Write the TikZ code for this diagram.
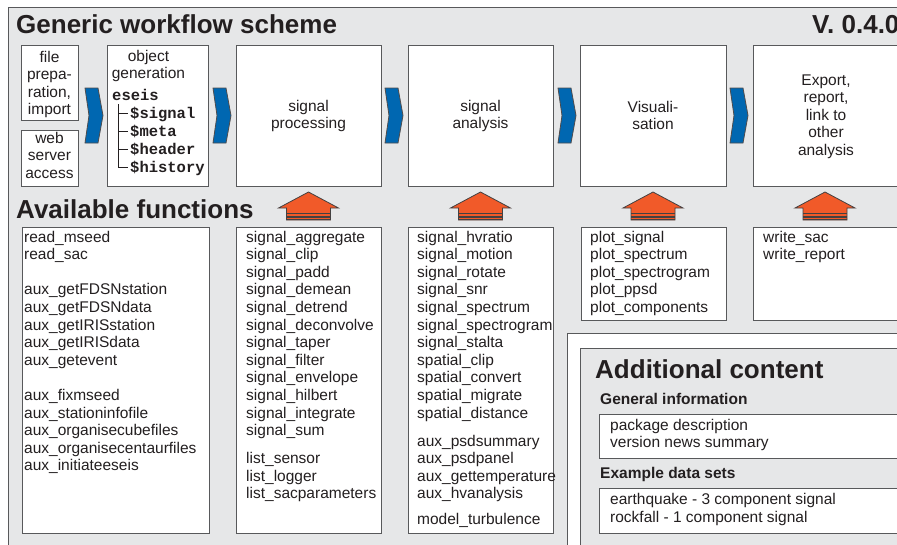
\documentclass[tikz,border=0pt]{standalone}
\usepackage{fontspec}
\setmainfont{Liberation Sans}
\setmonofont{Liberation Mono}
\definecolor{bg}{HTML}{E6E7E8}
\definecolor{ln}{HTML}{58595B}
\definecolor{txt}{HTML}{231F20}
\definecolor{chevc}{HTML}{0067B1}
\definecolor{orng}{HTML}{F15A29}
\newcommand\fs{\fontsize{15.5}{17.6}\selectfont}
\newcommand\bigfs{\fontsize{26}{30}\selectfont\bfseries}
\newcommand\midfs{\fontsize{15.5}{17.6}\selectfont\bfseries}
\newcommand\boxnode[6][box]{\node[#1, minimum width={(#5-#3)*1pt}, minimum height={(#6-#4)*1pt}] (#2) at (#3,#4) {};}
\newcommand\chevron[1]{\draw[chevst] (#1,88) -- ++(13,0) -- ++(5,27.5) -- ++(-5,27.5) -- ++(-13,0) -- ++(4,-27.5) -- cycle;}
\newcommand\uparr[1]{%
  \draw[arrst] (#1-22,220) -- (#1-22,208) -- (#1-30,208) -- (#1,192) -- (#1+30,208) -- (#1+22,208) -- (#1+22,220) -- cycle;
  \draw[stripe] (#1-22,213.5) -- (#1+22,213.5);
  \draw[stripe] (#1-22,217) -- (#1+22,217);
  \draw[stripe] (#1-22,219.8) -- (#1+22,219.8);}
\begin{document}
\begin{tikzpicture}[x=1pt,y=-1pt,
  box/.style={draw=ln, line width=1pt, fill=white, anchor=north west, inner sep=0pt, outer sep=0pt},
  graybox/.style={box, fill=bg},
  lbl/.style={inner sep=0pt, anchor=base west, align=left, font=\fs, text=txt},
  ctr/.style={inner sep=0pt, anchor=base, align=center, font=\fs, text=txt},
  ttl/.style={inner sep=0pt, anchor=base west, font=\bigfs, text=txt},
  sub/.style={inner sep=0pt, anchor=base west, font=\midfs, text=txt},
  mono/.style={inner sep=0pt, anchor=base west, font=\fontsize{15.5}{18}\selectfont\ttfamily\bfseries, text=txt},
  chevst/.style={fill=chevc, draw=txt!80, line width=0.8pt, line join=miter},
  arrst/.style={fill=orng, draw=txt!85, line width=0.8pt, line join=miter},
  stripe/.style={draw=txt!85, line width=1.1pt},
  tree/.style={draw=txt, line width=1pt}]
\useasboundingbox (0,0) rectangle (897,544);
\clip (0,0) rectangle (897,544);
% outer frame
\boxnode[graybox]{frame}{8}{7}{920}{570}
\node[ttl] (title) at (16,33) {Generic workflow scheme};
\node[ttl] (version) at (812,33) {V. 0.4.0};
% top row boxes
\boxnode{file}{21}{45}{78}{120}
\boxnode{web}{21}{130}{78}{186}
\boxnode{obj}{107}{45}{208}{186}
\boxnode{proc}{236}{45}{381}{186}
\boxnode{ana}{408}{45}{553}{186}
\boxnode{vis}{580}{45}{726}{186}
\boxnode{exp}{753}{45}{900}{186}
% (multi-line nodes: base anchor = baseline of the last line)
\node[ctr] (tfile) at (49.5,114.8) {file\\prepa-\\ration,\\import};
\node[ctr] (tweb) at (49.5,178.2) {web\\server\\access};
\node[ctr] (tobj) at (148.5,78.6) {object\\generation};
\node[mono] (eseis) at (112,100.5) {eseis};
\node[mono] (msig) at (130,118) {\$signal};
\node[mono] (mmeta) at (130,136) {\$meta};
\node[mono] (mhead) at (130,154) {\$header};
\node[mono] (mhist) at (130,172) {\$history};
\draw[tree] (118,104) -- (118,167.5) -- (128,167.5);
\draw[tree] (118,113.5) -- (128,113.5);
\draw[tree] (118,131.5) -- (128,131.5);
\draw[tree] (118,149.5) -- (128,149.5);
\node[ctr] (tproc) at (308.5,128.6) {signal\\processing};
\node[ctr] (tana) at (480.5,128.6) {signal\\analysis};
\node[ctr] (tvis) at (653,129.6) {Visuali-\\sation};
\node[ctr] (texp) at (826,155.4) {Export,\\report,\\link to\\other\\analysis};
% chevrons
\chevron{85}
\chevron{213}
\chevron{385}
\chevron{558}
\chevron{730}
% available functions
\node[ttl] (avail) at (16,218) {Available functions};
\uparr{308.5}
\uparr{480.5}
\uparr{653}
\uparr{825}
\boxnode{f1}{22}{227}{209}{533}
\boxnode{f2}{236}{227}{381}{533}
\boxnode{f3}{408}{227}{553}{533}
\boxnode{f4}{581}{227}{726}{320}
\boxnode{f5}{753}{227}{900}{320}
\node[lbl] (l1) at (24,470.8) {read\_mseed\\read\_sac\\[17.6pt]aux\_getFDSNstation\\aux\_getFDSNdata\\aux\_getIRISstation\\aux\_getIRISdata\\aux\_getevent\\[17.6pt]aux\_fixmseed\\aux\_stationinfofile\\aux\_organisecubefiles\\aux\_organisecentaurfiles\\aux\_initiateeseis};
\node[lbl] (l2) at (246,498.9) {signal\_aggregate\\signal\_clip\\signal\_padd\\signal\_demean\\signal\_detrend\\signal\_deconvolve\\signal\_taper\\signal\_filter\\signal\_envelope\\signal\_hilbert\\signal\_integrate\\signal\_sum\\[10.5pt]list\_sensor\\list\_logger\\list\_sacparameters};
\node[lbl] (l3) at (417,524) {signal\_hvratio\\signal\_motion\\signal\_rotate\\signal\_snr\\signal\_spectrum\\signal\_spectrogram\\signal\_stalta\\spatial\_clip\\spatial\_convert\\spatial\_migrate\\spatial\_distance\\[10.5pt]aux\_psdsummary\\aux\_psdpanel\\aux\_gettemperature\\aux\_hvanalysis\\[7.5pt]model\_turbulence};
\node[lbl] (l4) at (590,312.4) {plot\_signal\\plot\_spectrum\\plot\_spectrogram\\plot\_ppsd\\plot\_components};
\node[lbl] (l5) at (763,259.6) {write\_sac\\write\_report};
% additional content
\boxnode{addout}{567}{333}{920}{570}
\boxnode[graybox]{addin}{580}{348}{920}{570}
\node[ttl] (addt) at (595,378) {Additional content};
\node[sub] (gen) at (600,404) {General information};
\boxnode{pkg}{599}{414}{920}{458}
\node[lbl] (pkgt) at (610,447.6) {package description\\version news summary};
\node[sub] (exm) at (600,478) {Example data sets};
\boxnode{exb}{599}{488}{920}{533}
\node[lbl] (exbt) at (610,522.1) {earthquake - 3 component signal\\rockfall - 1 component signal};
\end{tikzpicture}
\end{document}
